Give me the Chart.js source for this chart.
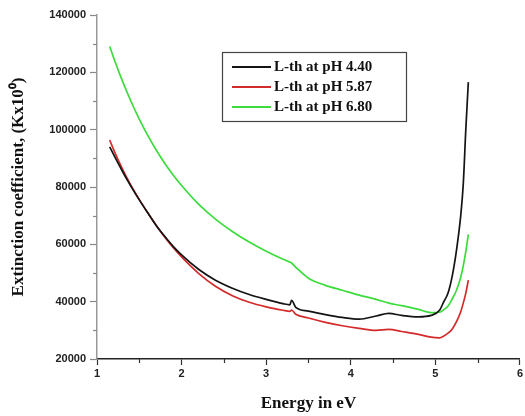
<!DOCTYPE html>
<html>
<head>
<meta charset="utf-8">
<script src="https://cdn.jsdelivr.net/npm/chart.js@4.4.1/dist/chart.umd.min.js"></script>
<style>
  html, body { margin: 0; padding: 0; background: #fff; }
  #wrap { width: 525px; height: 416px; }
</style>
</head>
<body>
<div id="wrap"><canvas id="extChart" width="525" height="416"></canvas></div>
<script>
const energy = [1.15, 1.2, 1.3, 1.4, 1.5, 1.6, 1.7, 1.8, 1.9, 2.0, 2.2, 2.4, 2.6, 2.8, 3.0, 3.2, 3.28, 3.3, 3.35,
    3.5, 3.7, 3.9, 4.1, 4.3, 4.45, 4.6, 4.8, 4.95, 5.05, 5.1, 5.15, 5.2, 5.25, 5.3, 5.33, 5.36, 5.39];

const ph440 = [94000, 91100, 85500, 80300, 75500, 71000, 66600, 62800, 59300, 56300, 51300, 47500, 44700, 42500,
    40800, 39300, 38900, 40500, 38000, 36700, 35500, 34500, 33900, 35000, 35900, 35200, 34700, 35200,
    37000, 40000, 43000, 49000, 58000, 70000, 81000, 100000, 116600];

const ph587 = [96400, 92800, 86300, 80600, 75600, 71000, 66600, 62600, 58900, 55600, 49900, 45400, 42100, 39800,
    38200, 37000, 36600, 37100, 35600, 34300, 32800, 31600, 30700, 30000, 30300, 29600, 28600, 27600,
    27400, 28000, 29000, 30500, 33000, 36500, 39500, 43000, 47500];

const ph680 = [129000, 124800, 117000, 110000, 103700, 98000, 92900, 88300, 84200, 80500, 74000, 68800, 64500, 60800,
    57600, 54800, 53800, 53500, 52000, 48200, 45700, 44000, 42300, 40800, 39500, 38600, 37300, 36200,
    36300, 37200, 38500, 41000, 44000, 48500, 52500, 57500, 63500];

const seriesNames = ['L-th at pH 4.40', 'L-th at pH 5.87', 'L-th at pH 6.80'];
const seriesColors = ['#141414', '#d42a2a', '#3ddc3d'];
const yTicks = [20000, 40000, 60000, 80000, 100000, 120000, 140000];
const xTicks = [1, 2, 3, 4, 5, 6];

function pts(ys) {
    return energy.map((e, i) => ({ x: e, y: ys[i] }));
}

// legend box inside the plot, drawn from dataset labels/colours
const boxLegend = {
    id: 'boxLegend',
    afterDraw(chart) {
        const ctx = chart.ctx;
        const x0 = 222, y0 = 52, w = 184, h = 69;
        ctx.save();
        ctx.fillStyle = '#fff';
        ctx.fillRect(x0, y0, w, h);
        ctx.strokeStyle = '#444';
        ctx.lineWidth = 1.2;
        ctx.strokeRect(x0 + 0.5, y0 + 0.5, w, h);
        ctx.font = 'bold 15px "Liberation Serif", "Times New Roman", serif';
        ctx.textBaseline = 'middle';
        chart.data.datasets.forEach((ds, i) => {
            const yy = y0 + 15 + i * 20;
            ctx.strokeStyle = ds.borderColor;
            ctx.lineWidth = 2;
            ctx.beginPath();
            ctx.moveTo(x0 + 10, yy);
            ctx.lineTo(x0 + 49, yy);
            ctx.stroke();
            ctx.fillStyle = '#111';
            ctx.fillText(ds.label, x0 + 52, yy);
        });
        ctx.restore();
    }
};

// shorter minor ticks between the labelled ones
const minorTicks = {
    id: 'minorTicks',
    afterDraw(chart) {
        const ctx = chart.ctx;
        const xs = chart.scales.x, ys = chart.scales.y;
        ctx.save();
        ctx.lineWidth = 1.2;
        ctx.strokeStyle = '#333';
        xs.ticks.forEach((t) => {
            if (xTicks.includes(t.value)) return;
            const px = Math.round(xs.getPixelForValue(t.value)) + 0.5;
            ctx.beginPath();
            ctx.moveTo(px, xs.top);
            ctx.lineTo(px, xs.top + 4);
            ctx.stroke();
        });
        ctx.strokeStyle = '#888';
        ys.ticks.forEach((t) => {
            if (yTicks.includes(t.value)) return;
            const py = Math.round(ys.getPixelForValue(t.value)) + 0.5;
            ctx.beginPath();
            ctx.moveTo(ys.right, py);
            ctx.lineTo(ys.right - 4, py);
            ctx.stroke();
        });
        ctx.restore();
    }
};

const ctx = document.getElementById('extChart').getContext('2d');
new Chart(ctx, {
    type: 'line',
    data: {
        datasets: [ph440, ph587, ph680].map((ys, i) => ({
            label: seriesNames[i],
            data: pts(ys),
            borderColor: seriesColors[i],
            backgroundColor: seriesColors[i],
            borderWidth: 1.7,
            pointRadius: 0,
            cubicInterpolationMode: 'monotone',
            fill: false
        }))
    },
    options: {
        responsive: false,
        animation: false,
        layout: { padding: { top: 15, right: 4, left: 0, bottom: 0 } },
        plugins: {
            legend: { display: false },
            tooltip: { enabled: false }
        },
        scales: {
            x: {
                type: 'linear',
                min: 1,
                max: 6,
                afterFit(scale) { scale.height = 57; },
                ticks: {
                    stepSize: 0.5,
                    autoSkip: false,
                    maxRotation: 0,
                    padding: 2,
                    color: '#222',
                    font: { family: 'Liberation Sans, Arial, sans-serif', size: 11, weight: 'bold' },
                    callback: (v) => xTicks.includes(v) ? String(v) : ''
                },
                grid: {
                    drawOnChartArea: false,
                    tickLength: 6,
                    tickColor: (c) => c.tick && xTicks.includes(c.tick.value) ? '#333' : 'rgba(0,0,0,0)',
                    tickWidth: 1.2
                },
                border: { color: '#222', width: 1.5 },
                title: {
                    display: true,
                    text: 'Energy in eV',
                    color: '#111',
                    padding: { top: 4, bottom: 2 },
                    font: { family: 'Liberation Serif, Times New Roman, serif', size: 17, weight: 'bold' }
                }
            },
            y: {
                min: 20000,
                max: 140000,
                afterFit(scale) { scale.width = 97; },
                ticks: {
                    stepSize: 10000,
                    autoSkip: false,
                    padding: 4,
                    color: '#222',
                    font: { family: 'Liberation Sans, Arial, sans-serif', size: 11, weight: 'bold' },
                    callback: (v) => yTicks.includes(v) ? String(v) : ''
                },
                grid: {
                    drawOnChartArea: false,
                    tickLength: 7,
                    tickColor: (c) => c.tick && yTicks.includes(c.tick.value) ? '#888' : 'rgba(0,0,0,0)',
                    tickWidth: 1.2
                },
                border: { color: '#999', width: 1.5 },
                title: {
                    display: true,
                    text: 'Extinction coefficient, (Kx10\u2070)',
                    color: '#111',
                    padding: { top: 8, bottom: 0 },
                    font: { family: 'Liberation Serif, Times New Roman, serif', size: 17, weight: 'bold' }
                }
            }
        }
    },
    plugins: [boxLegend, minorTicks]
});
</script>
</body>
</html>
